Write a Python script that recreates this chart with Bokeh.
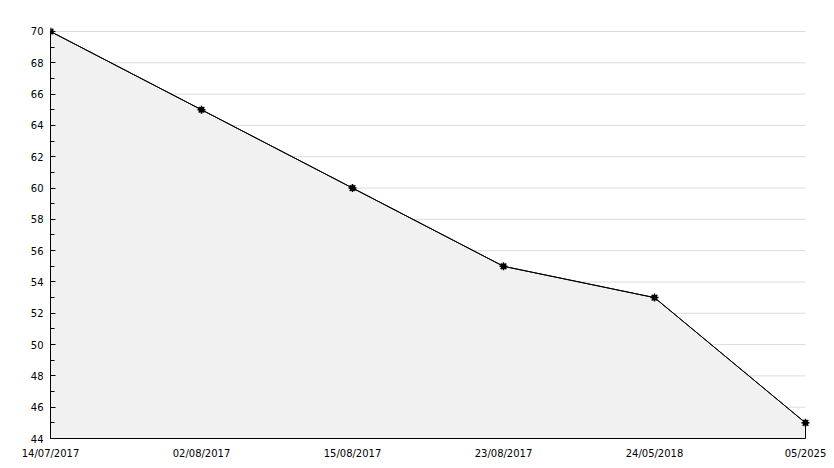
from bokeh.plotting import figure
from bokeh.models import Range1d, FixedTicker
from bokeh.embed import file_html
from bokeh.resources import INLINE

categories = ["14/07/2017", "02/08/2017", "15/08/2017", "23/08/2017", "24/05/2018", "05/2025"]
values = [70, 65, 60, 55, 53, 45]
y_min, y_max = 44, 70
y_major = list(range(44, 71, 2))
y_minor = list(range(44, 71, 1))

xs = list(range(len(categories)))
n = len(categories) - 1

xpad = 0.0331
ypad = 0.319

p = figure(width=830, height=462, output_backend="svg", toolbar_location=None,
           x_range=Range1d(0, n + xpad), y_range=Range1d(y_min, y_max + ypad),
           min_border_left=50, min_border_right=20, min_border_top=26, min_border_bottom=24)
p.outline_line_color = None
p.background_fill_color = "white"
p.xgrid.visible = False
p.ygrid.visible = False

# horizontal grid lines spanning the category extent
grid_y = [v for v in y_major if v != y_min]
p.segment(x0=[xs[0]] * len(grid_y), x1=[xs[-1]] * len(grid_y), y0=grid_y, y1=grid_y,
          line_color="#dcdcdc", line_width=1)

# fill area with outline (covers right edge)
px = xs + [xs[-1], xs[0]]
py = values + [y_min, y_min]
p.patch(px, py, fill_color="#f1f1f1", line_color="black", line_width=1)
p.line(xs, values, line_color="black", line_width=1)
p.scatter(xs, values, marker="circle", size=5, color="black")
p.scatter(xs, values, marker="asterisk", size=8, line_color="black", line_width=1.5)

xa = p.xaxis[0]
xa.ticker = FixedTicker(ticks=xs)
xa.bounds = (xs[0], xs[-1])
xa.major_label_overrides = {i: c for i, c in enumerate(categories)}
xa.major_tick_line_color = None
xa.minor_tick_line_color = None
xa.major_label_standoff = 3
xa.axis_line_color = "black"
xa.major_label_text_font = "DejaVu Sans"
xa.major_label_text_font_size = "10px"
xa.major_label_text_color = "black"

ya = p.yaxis[0]
ya.bounds = (y_min, y_max)
ya.ticker = FixedTicker(ticks=y_major, minor_ticks=y_minor)
ya.major_tick_in = 5
ya.major_tick_out = 0
ya.minor_tick_in = 4
ya.minor_tick_out = 0
ya.major_tick_line_color = "black"
ya.minor_tick_line_color = "black"
ya.axis_line_color = "black"
ya.major_label_standoff = 7
ya.major_label_text_font = "DejaVu Sans"
ya.major_label_text_font_size = "10px"
ya.major_label_text_color = "black"

open("out.html", "w").write(file_html(p, INLINE))
